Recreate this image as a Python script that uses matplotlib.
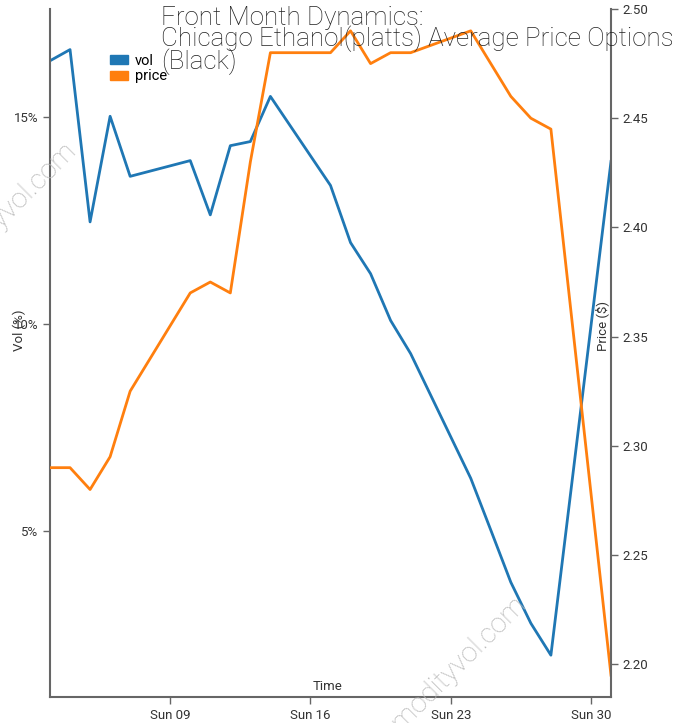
import matplotlib.pyplot as plt
import matplotlib.patches as mpatches
import pandas as pd

plt.rcParams['font.family'] = ['Roboto', 'DejaVu Sans']

dates = pd.to_datetime([
    "2025-03-03", "2025-03-04", "2025-03-05", "2025-03-06", "2025-03-07",
    "2025-03-10", "2025-03-11", "2025-03-12", "2025-03-13", "2025-03-14",
    "2025-03-17", "2025-03-18", "2025-03-19", "2025-03-20", "2025-03-21",
    "2025-03-24", "2025-03-25", "2025-03-26", "2025-03-27", "2025-03-28",
    "2025-03-31",
])
vol = [16.35, 16.62, 12.46, 15.01, 13.56,
       13.94, 12.63, 14.30, 14.40, 15.49,
       13.34, 11.96, 11.21, 10.08, 9.28,
       6.27, 5.02, 3.76, 2.77, 2.00,
       13.92]
price = [2.290, 2.290, 2.280, 2.295, 2.325,
         2.370, 2.375, 2.370, 2.430, 2.480,
         2.480, 2.490, 2.475, 2.480, 2.480,
         2.490, 2.475, 2.460, 2.450, 2.445,
         2.195]

vol_ticks = [5, 10, 15]
price_ticks = [2.20, 2.25, 2.30, 2.35, 2.40, 2.45, 2.50]
x_ticks = pd.to_datetime(["2025-03-09", "2025-03-16", "2025-03-23", "2025-03-30"])

blue = "#1f77b4"
orange = "#ff7f0e"
grey = "#666666"
txt = "#333333"

fig = plt.figure(figsize=(6.92, 7.23), dpi=100)
ax = fig.add_axes([50 / 692, 26 / 723, 561 / 692, 688 / 723])
ax2 = ax.twinx()

ax.plot(dates, vol, color=blue, lw=2)
ax2.plot(dates, price, color=orange, lw=2)

ax.set_xlim(dates[0], dates[-1])
ax.set_ylim(0.99, 17.6)
ax2.set_ylim(2.185, 2.4995)

for a in (ax, ax2):
    a.spines["top"].set_visible(False)
    for s in ("left", "right", "bottom"):
        a.spines[s].set_color(grey)
        a.spines[s].set_linewidth(1.5)
ax.spines["right"].set_visible(False)
ax2.spines["left"].set_visible(False)
ax2.spines["bottom"].set_visible(False)

ax.set_yticks(vol_ticks)
ax.set_yticklabels([f"{v}%" for v in vol_ticks])
ax2.set_yticks(price_ticks)
ax2.set_yticklabels([f"{p:.2f}" for p in price_ticks])
ax.set_xticks(x_ticks)
ax.set_xticklabels([d.strftime("Sun %d") for d in x_ticks])

ax.tick_params(axis="both", colors=grey, labelcolor=txt, labelsize=9.5, length=5, width=1)
ax2.tick_params(axis="y", colors=grey, labelcolor=txt, labelsize=9.5, length=5, width=1)

ax.set_ylabel("Vol (%)", fontsize=9.5, color=txt)
ax.yaxis.set_label_coords(-0.043, 0.533)
ax2.set_ylabel("Price ($)", fontsize=9.5, color=txt, rotation=90)
ax2.yaxis.set_label_coords(0.971, 0.539)
ax.text(0.495, 0.006, "Time", transform=ax.transAxes, ha="center", va="bottom",
        fontsize=9.5, color=txt)

fig.text(161 / 692, 1 - 6 / 723,
         "Front Month Dynamics:\nChicago Ethanol(platts) Average Price Options\n(Black)",
         ha="left", va="top", fontsize=18.7, fontweight="light", color="#222222",
         linespacing=0.8)

handles = [mpatches.Patch(color=blue, label="vol"), mpatches.Patch(color=orange, label="price")]
fig.legend(handles=handles, loc="upper left", bbox_to_anchor=(110 / 692, 1 - 54 / 723),
           frameon=False, fontsize=10.5, handlelength=1.2, handleheight=0.6,
           handletextpad=0.5, labelspacing=0.1, borderaxespad=0, borderpad=0)

for xe, ye in [(78, 152), (528, 606)]:
    fig.text(xe / 692, 1 - ye / 723, "commodityvol.com", ha="right", va="baseline",
             rotation=45, rotation_mode="anchor", fontsize=20, color="#bbbbbb",
             fontweight="light")

fig.savefig("out.png", dpi=100)
